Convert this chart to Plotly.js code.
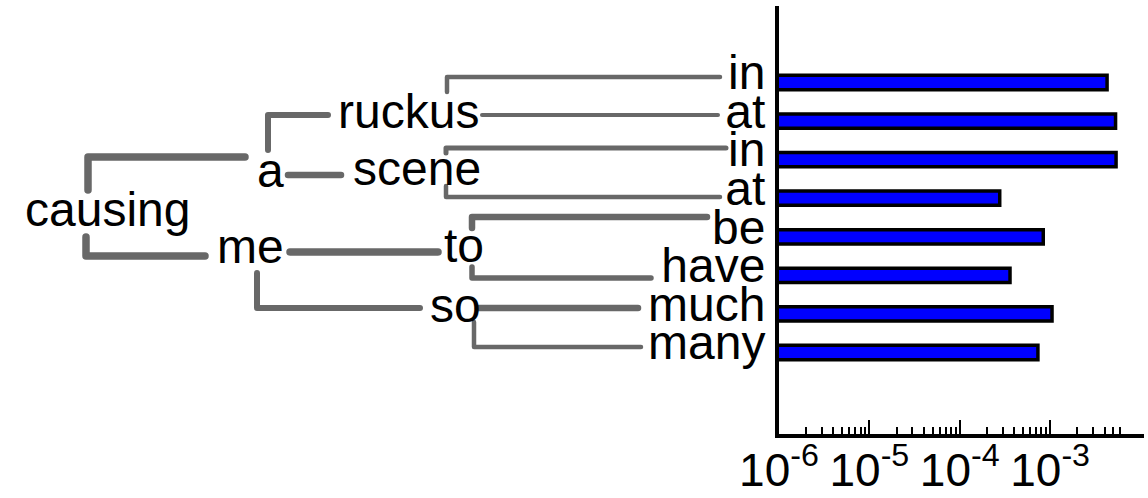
<!DOCTYPE html>
<html>
<head>
<meta charset="utf-8">
<script src="https://cdn.plot.ly/plotly-3.0.1.min.js"></script>
<style>
  body { margin: 0; background: #fff; }
  #chart { width: 1148px; height: 498px; }
  #chart .js-line { stroke-linecap: round; stroke-linejoin: round; }
</style>
</head>
<body>
<div id="chart"></div>
<script>
  // leaves of the tree = rows of the bar chart
  var leafWords = ['in', 'at', 'in', 'at', 'be', 'have', 'much', 'many'];
  var barValues = [4.27e-3, 5.3e-3, 5.37e-3, 2.77e-4, 8.4e-4, 3.6e-4, 1.05e-3, 7.33e-4];

  // inner words of the tree
  var treeWords = ['causing', 'a', 'me', 'ruckus', 'scene', 'to', 'so'];
  // edges: parent word -> child (inner word or leaf row)
  var edgeFrom = ['causing', 'causing', 'a', 'a', 'me', 'me', 'ruckus', 'ruckus', 'scene', 'scene', 'to', 'to', 'so', 'so'];
  var edgeTo = ['a', 'me', 'ruckus', 'scene', 'to', 'so', 'in', 'at', 'in', 'at', 'be', 'have', 'much', 'many'];

  // axis ticks
  var majorTicks = [1e-6, 1e-5, 1e-4, 1e-3];
  var majorText = ['10<sup>-6</sup>', '10<sup>-5</sup>', '10<sup>-4</sup>', '10<sup>-3</sup>'];
  var minorTicks = [2e-6, 3e-6, 4e-6, 5e-6, 6e-6, 7e-6, 8e-6, 9e-6,
                    2e-5, 3e-5, 4e-5, 5e-5, 6e-5, 7e-5, 8e-5, 9e-5,
                    2e-4, 3e-4, 4e-4, 5e-4, 6e-4, 7e-4, 8e-4, 9e-4,
                    2e-3, 3e-3, 4e-3, 5e-3, 6e-3];

  // drawing layout of the tree (page pixels, used on a hidden 0..1148 x 0..498 frame)
  var wordX = [107.5, 270, 250, 408.5, 416.5, 463.5, 455];
  var wordY = [209.5, 170, 246.5, 111.5, 168.5, 245, 305];
  // elbow of each edge: start x, start y, end y, end x
  var elbowX0 = [88, 86, 268, 288, 290, 257, 447, 482, 446, 446, 472, 472, 478, 474];
  var elbowY0 = [190, 237, 150, 175, 252, 273, 92, 115, 153, 186, 228, 267, 308, 322];
  var elbowY1 = [157, 256, 115, 175, 252, 308, 77, 115, 148, 197, 217, 278, 308, 347];
  var elbowX1 = [245, 205, 328, 341, 438, 420, 720, 718, 726, 720, 707, 651, 638, 641];
  var edgeW = [7.5, 7.5, 6, 6.5, 7.5, 6, 4.5, 4, 5, 4.5, 6.5, 5.5, 6.5, 4.5];

  var font = 'Liberation Sans, Arial, Helvetica, sans-serif';
  var grey = '#686868';
  var rows = leafWords.map(function(w, i) { return i; });

  var data = [];
  for (var e = 0; e < edgeFrom.length; e++) {
    data.push({
      type: 'scatter', mode: 'lines',
      x: [elbowX0[e], elbowX0[e], elbowX1[e]],
      y: [elbowY0[e], elbowY1[e], elbowY1[e]],
      xaxis: 'x2', yaxis: 'y2',
      line: {color: grey, width: edgeW[e]},
      hoverinfo: 'skip', showlegend: false,
      name: edgeFrom[e] + '-' + edgeTo[e]
    });
  }

  data.push({
    type: 'bar', orientation: 'h',
    x: barValues, y: rows,
    width: 0.37,
    marker: {color: '#0000ff', line: {color: '#000', width: 3.5}},
    showlegend: false
  });

  var annotations = treeWords.map(function(w, i) {
    return {
      text: w, x: wordX[i], y: wordY[i], xref: 'x2', yref: 'y2',
      xanchor: 'center', yanchor: 'middle', showarrow: false,
      font: {family: font, size: 48, color: '#000'}
    };
  });

  var layout = {
    width: 1148, height: 498,
    margin: {l: 0, r: 0, t: 0, b: 0},
    paper_bgcolor: '#fff', plot_bgcolor: 'rgba(0,0,0,0)',
    showlegend: false,
    font: {family: font, color: '#000'},
    xaxis: {
      type: 'log', domain: [779 / 1148, 1144 / 1148],
      range: [-6, -1.961], autorange: false,
      showline: true, linewidth: 4, linecolor: '#000',
      showgrid: false, zeroline: false,
      ticks: 'inside', ticklen: 14, tickwidth: 2, tickcolor: '#000',
      tickmode: 'array', tickvals: majorTicks, ticktext: majorText,
      tickfont: {family: font, size: 46, color: '#000'},
      ticklabelstandoff: -7,
      minor: {tickmode: 'array', tickvals: minorTicks, ticks: 'inside', ticklen: 7, tickwidth: 2, tickcolor: '#000', showgrid: false},
      anchor: 'y'
    },
    yaxis: {
      domain: [64.5 / 498, 492 / 498],
      range: [9.1, -1.983], autorange: false,
      showline: true, linewidth: 4, linecolor: '#000',
      showgrid: false, zeroline: false, ticks: '',
      tickmode: 'array', tickvals: rows, ticktext: leafWords,
      tickfont: {family: font, size: 48, color: '#000'},
      ticklabelshift: 10,
      anchor: 'x'
    },
    xaxis2: {domain: [0, 1], range: [0, 1148], visible: false, anchor: 'y2'},
    yaxis2: {domain: [0, 1], range: [498, 0], visible: false, anchor: 'x2'},
    annotations: annotations
  };

  Plotly.newPlot('chart', data, layout, {staticPlot: true});
</script>
</body>
</html>
